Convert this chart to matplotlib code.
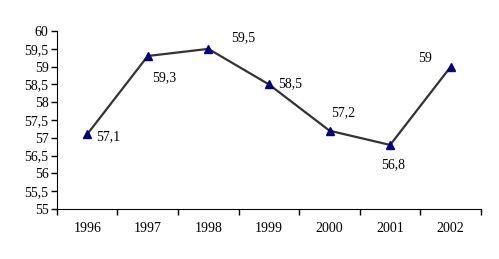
import numpy as np
import matplotlib.pyplot as plt

years = ['1996', '1997', '1998', '1999', '2000', '2001', '2002']
values = [57.1, 59.3, 59.5, 58.5, 57.2, 56.8, 59.0]
labels = ['57,1', '59,3', '59,5', '58,5', '57,2', '56,8', '59']
# label offsets in pixels
offsets = [(21, -2), (16, -22), (35, 11), (21, 1), (14, 18), (3, -20), (-26, 8)]

plt.rcParams['font.family'] = ['Liberation Serif', 'DejaVu Serif']

fig = plt.figure(figsize=(4.99, 2.59), dpi=100)
ax = fig.add_axes([0.114, 0.193, 0.850, 0.687])

x = np.arange(len(years))
ax.plot(x, values, color='#333333', lw=1.6, zorder=2)
ax.plot(x, values, ls='none', marker='^', ms=6, color='#000080', zorder=3)

for xi, v, lab, off in zip(x, values, labels, offsets):
    ax.annotate(lab, (xi, v), xytext=off, textcoords='offset pixels',
                ha='center', va='center', fontsize=10)

ax.set_xlim(-0.5, len(years) - 0.5)
ax.set_ylim(55, 60)
yt = np.arange(55, 60.01, 0.5)
ax.set_yticks(yt)
ax.set_yticklabels([('%g' % t).replace('.', ',') for t in yt], fontsize=10)
ax.set_xticks(np.arange(-0.5, len(years)))
ax.set_xticklabels([])
ax.set_xticks(x, minor=True)
ax.set_xticklabels(years, minor=True, fontsize=10)
ax.tick_params(axis='x', which='minor', length=0, pad=9)
ax.tick_params(axis='x', which='major', length=4, width=1)
ax.tick_params(axis='y', length=4, width=1, pad=2)
ax.spines['top'].set_visible(False)
ax.spines['right'].set_visible(False)

fig.savefig('out.png', dpi=100)
